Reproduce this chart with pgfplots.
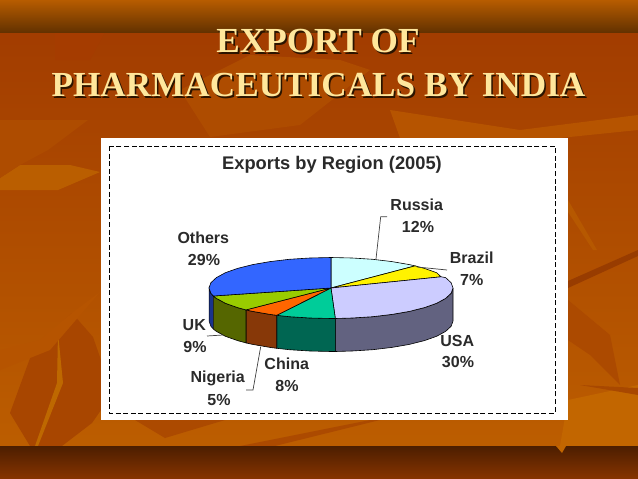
\documentclass[border=0pt]{standalone}
\usepackage{pgfplots}
\pgfplotsset{compat=1.18}
\usepackage{fontspec}
\setmainfont{Liberation Sans}
\newfontfamily\titlefont{Liberation Serif}
\definecolor{tcol}{HTML}{FFE79C}
\definecolor{tshadow}{HTML}{2A1400}
\definecolor{lab}{HTML}{2A2A2A}
\definecolor{bgtop}{RGB}{160,58,0}
\definecolor{bgmid}{RGB}{172,72,0}
\definecolor{bgbot}{RGB}{190,96,0}
\definecolor{l1}{RGB}{168,70,0}
\definecolor{l2}{RGB}{190,104,0}
\definecolor{l3}{RGB}{186,94,0}
\definecolor{l4}{RGB}{174,76,0}
\definecolor{l5}{RGB}{182,84,0}
\definecolor{l7}{RGB}{172,74,0}
\definecolor{l8}{RGB}{152,60,0}
\definecolor{l9}{RGB}{182,88,0}
\definecolor{l10}{RGB}{194,102,0}
\definecolor{l11}{RGB}{168,72,0}
\definecolor{l12}{RGB}{165,60,0}
\definecolor{b1}{RGB}{183,92,0}
\definecolor{b2}{RGB}{100,50,0}
\definecolor{b3}{RGB}{76,30,0}
\definecolor{b4}{RGB}{135,52,0}
\definecolor{wOthers}{RGB}{26,51,140}
\definecolor{wUSA}{RGB}{98,98,128}
\definecolor{wChina}{RGB}{0,102,82}
\definecolor{wNigeria}{RGB}{135,56,8}
\definecolor{wUK}{RGB}{85,102,0}
\definecolor{tRussia}{RGB}{204,255,255}
\definecolor{tUSA}{RGB}{204,204,255}
\definecolor{tChina}{RGB}{0,204,153}
\definecolor{tNigeria}{RGB}{255,102,0}
\definecolor{tUK}{RGB}{153,204,0}
\definecolor{tOthers}{RGB}{51,102,255}
\newcommand{\lbl}[3]{\node[font=\fontsize{16}{18}\selectfont\bfseries,text=lab,inner sep=0pt] at (axis cs:#1,#2) {#3};}
\newcommand{\ttl}[3]{%
\node[font=\titlefont\fontsize{35.2}{40}\selectfont\bfseries,text=tshadow,inner sep=0pt,xshift=1.6pt,yshift=-1.6pt] at (axis cs:#1,#2) {#3};
\node[font=\titlefont\fontsize{35.2}{40}\selectfont\bfseries,text=tcol,inner sep=0pt] at (axis cs:#1,#2) {#3};}
\begin{document}
\begin{tikzpicture}
\begin{axis}[
  scale only axis, width=638pt, height=479pt,
  xmin=0, xmax=638, ymin=0, ymax=479, y dir=reverse,
  hide axis, clip=true]
% background
\shade[top color=bgtop, middle color=bgmid, bottom color=bgbot] (axis cs:0,0) rectangle (axis cs:638,479);
% leaves
\fill[l1] (axis cs:10,413)--(axis cs:33,350)--(axis cs:72,313)--(axis cs:93,337)--(axis cs:101,360)--(axis cs:101,410)--(axis cs:92,423)--(axis cs:62,446)--(axis cs:30,446)--cycle;
\fill[l2] (axis cs:58,333)--(axis cs:63,383)--(axis cs:38,446)--(axis cs:35,446)--(axis cs:57,383)--cycle;
\fill[l3] (axis cs:0,178)--(axis cs:20,165)--(axis cs:70,165)--(axis cs:100,172)--(axis cs:58,190)--(axis cs:0,190)--cycle;
\fill[l4] (axis cs:0,120)--(axis cs:88,120)--(axis cs:48,150)--(axis cs:20,165)--(axis cs:0,178)--cycle;
\fill[l5] (axis cs:0,350)--(axis cs:40,340)--(axis cs:72,313)--(axis cs:100,292)--(axis cs:50,350)--(axis cs:0,370)--cycle;
\fill[l7] (axis cs:568,300)--(axis cs:610,335)--(axis cs:620,385)--(axis cs:590,355)--(axis cs:568,340)--cycle;
\fill[l8] (axis cs:568,281)--(axis cs:638,250)--(axis cs:638,256)--(axis cs:568,288)--cycle;
\fill[l9] (axis cs:568,200)--(axis cs:597,250)--(axis cs:593,250)--(axis cs:568,212)--cycle;
\fill[l10] (axis cs:568,400)--(axis cs:638,385)--(axis cs:638,446)--(axis cs:560,446)--cycle;
\fill[l11] (axis cs:580,385)--(axis cs:638,395)--(axis cs:638,388)--cycle;
\fill[l4] (axis cs:180,90)--(axis cs:250,55)--(axis cs:340,60)--(axis cs:370,70)--(axis cs:300,125)--(axis cs:210,137)--cycle;
\fill[l5] (axis cs:390,110)--(axis cs:520,130)--(axis cs:638,115)--(axis cs:638,130)--(axis cs:560,138)--(axis cs:400,138)--cycle;
\fill[l12] (axis cs:55,32)--(axis cs:105,32)--(axis cs:90,60)--(axis cs:55,60)--cycle;
\fill[l7] (axis cs:135,420)--(axis cs:225,420)--(axis cs:165,438)--cycle;
\fill[l7] (axis cs:240,446)--(axis cs:370,420)--(axis cs:380,420)--(axis cs:275,446)--cycle;
% bands
\shade[top color=b1, bottom color=b2] (axis cs:0,0) rectangle (axis cs:638,32);
\shade[top color=b3, bottom color=b4] (axis cs:0,446) rectangle (axis cs:638,479);
\fill[l10] (axis cs:556,446)--(axis cs:566,446)--(axis cs:562,453)--cycle;
% white panel
\fill[white] (axis cs:101,138) rectangle (axis cs:568,420);
\draw[black, line width=1pt, dash pattern=on 5pt off 2.6pt] (axis cs:109,146) rectangle (axis cs:555,413);
% pie walls
\addplot[fill=wOthers, draw=black, line width=.5pt] coordinates {(213.3,296)(210.9,293.3)(209,288)(209,321)(210.9,326.3)(213.3,329)};
\addplot[fill=wUSA, draw=black, line width=.6pt] coordinates {(453,288)(451.1,293.3)(445.6,298.4)(436.7,303.25)(424.5,307.6)(409.4,311.4)(392,314.4)(372.7,316.7)(352.2,318)(335.3,318.5)(335.3,351.5)(352.2,351)(372.7,349.7)(392,347.4)(409.4,344.4)(424.5,340.6)(436.7,336.25)(445.6,331.4)(451.1,326.3)(453,321)(453,288)};
\addplot[fill=wChina, draw=black, line width=.6pt] coordinates {(335.3,318.5)(331,318.5)(309.8,318)(289.3,316.7)(276.7,315.3)(276.7,348.3)(289.3,349.7)(309.8,351)(331,351.5)(335.3,351.5)(335.3,318.5)};
\addplot[fill=wNigeria, draw=black, line width=.6pt] coordinates {(276.7,315.3)(270,314.4)(252.6,311.4)(246,309.9)(246,342.9)(252.6,344.4)(270,347.4)(276.7,348.3)(276.7,315.3)};
\addplot[fill=wUK, draw=black, line width=.6pt] coordinates {(246,309.9)(237.5,307.6)(225.3,303.25)(216.4,298.4)(213.3,296)(213.3,329)(216.4,331.4)(225.3,336.25)(237.5,340.6)(246,342.9)(246,309.9)};
% pie top
\addplot[fill=tRussia, draw=black, line width=.6pt] coordinates {(331,288)(331,257.5)(352.2,258)(372.7,259.3)(392,261.6)(409.4,264.6)(415,265.9)(331,288)};
\addplot[fill=yellow, draw=black, line width=.6pt] coordinates {(331,288)(415,265.9)(424.5,268.4)(436.7,272.75)(441,276.8)(331,288)};
\addplot[fill=tUSA, draw=black, line width=.6pt] coordinates {(331,288)(441,276.8)(445.6,277.6)(451.1,282.7)(453,288)(451.1,293.3)(445.6,298.4)(436.7,303.25)(424.5,307.6)(409.4,311.4)(392,314.4)(372.7,316.7)(352.2,318)(335.3,318.5)(331,288)};
\addplot[fill=tChina, draw=black, line width=.6pt] coordinates {(331,288)(335.3,318.5)(331,318.5)(309.8,318)(289.3,316.7)(276.7,315.3)(331,288)};
\addplot[fill=tNigeria, draw=black, line width=.6pt] coordinates {(331,288)(276.7,315.3)(270,314.4)(252.6,311.4)(246,309.9)(331,288)};
\addplot[fill=tUK, draw=black, line width=.6pt] coordinates {(331,288)(246,309.9)(237.5,307.6)(225.3,303.25)(216.4,298.4)(213.3,296)(331,288)};
\addplot[fill=tOthers, draw=black, line width=.6pt] coordinates {(331,288)(213.3,296)(210.9,293.3)(209,288)(210.9,282.7)(216.4,277.6)(225.3,272.75)(237.5,268.4)(252.6,264.6)(270,261.6)(289.3,259.3)(309.8,258)(331,257.5)(331,288)};
% leaders
\addplot[draw=black!75, line width=.7pt] coordinates {(376,259)(380.7,216.7)(387,216.7)};
\addplot[draw=black!75, line width=.7pt] coordinates {(417,267)(447,270)};
\addplot[draw=black!75, line width=.7pt] coordinates {(207,336)(223,335)};
\addplot[draw=black!75, line width=.7pt] coordinates {(260.7,346.7)(253,390)(246,390)};
% texts
\ttl{318}{41}{EXPORT OF}
\ttl{318.5}{85}{PHARMACEUTICALS BY INDIA}
\node[font=\fontsize{18.3}{20}\selectfont\bfseries,text=lab,inner sep=0pt] at (axis cs:332,164.5) {Exports by Region (2005)};
\lbl{416.7}{205}{Russia}\lbl{418}{226.7}{12\%}
\lbl{471.7}{258}{Brazil}\lbl{471.7}{279.5}{7\%}
\lbl{457.3}{341}{USA}\lbl{458}{362.5}{30\%}
\lbl{286.7}{363.7}{China}\lbl{287}{385.7}{8\%}
\lbl{217.7}{378.3}{Nigeria}\lbl{219}{400}{5\%}
\lbl{194.3}{325}{UK}\lbl{195}{346.7}{9\%}
\lbl{203.3}{237.7}{Others}\lbl{204}{260}{29\%}
\end{axis}
\end{tikzpicture}
\end{document}
